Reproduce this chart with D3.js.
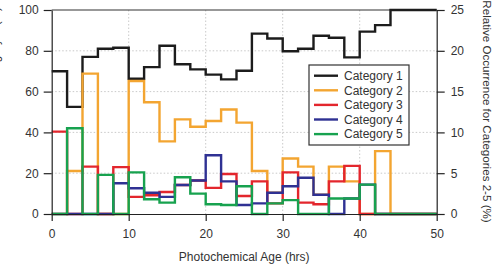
<!DOCTYPE html>
<html><head><meta charset="utf-8">
<script src="https://cdn.jsdelivr.net/npm/d3@7"></script>
<style>body{margin:0;background:#fff}svg{display:block}text{font-family:"Liberation Sans",Arial,sans-serif;fill:#333}</style>
</head><body><svg id="c" width="503" height="264"></svg>
<script>
const binEdges = d3.range(0, 52, 2);
const categories = ["Category 1","Category 2","Category 3","Category 4","Category 5"];
const cat1 = [70,52.5,77,81,81.5,66.3,72,82.5,73.4,70.9,68.3,66,70.2,88.4,86,79.8,81,87.4,86.4,76.8,89.4,92.6,100,100,100];
const cat2 = [0,5.27,17.2,0,0,16.3,13.7,8.9,11.6,10.7,11.4,12.8,11.2,5.27,2.6,6.8,5.8,2.35,5.8,4.0,0,7.7,0,0,0];
const cat3 = [10.1,0,5.8,0,5.75,2.1,2.3,2.7,3.55,4.1,3.2,4.9,2.2,4.0,1.3,5.1,1.4,1.2,4.0,5.9,0,0,0,0,0];
const cat4 = [0,0,0,0,3.76,3.15,2.6,2.1,3.55,4.1,7.2,4.0,1.1,1.3,2.6,3.4,4.45,2.35,0,1.9,3.6,0,0,0,0];
const cat5 = [0,10.5,0,4.8,0,5.1,1.8,1.4,4.5,2.5,1.2,1.1,3.4,0,1.3,1.7,0,0,1.9,1.9,3.6,0,0,0,0];
const colors = ["#1c1c1c","#f3a531","#e3262d","#2f3193","#17a24f"];
const xTicks = [0,10,20,30,40,50];
const yLeftTicks = [0,20,40,60,80,100];
const yRightTicks = [0,5,10,15,20,25];

const svg = d3.select("#c");
const L = 51.7, R = 436.7, T = 10, B = 214;
const x = d3.scaleLinear().domain([0,50]).range([L,R]);
const yL = d3.scaleLinear().domain([0,100]).range([B,T]);
const yR = d3.scaleLinear().domain([0,25]).range([B,T]);

const g = svg.append("g");
g.selectAll("line.gx").data([10,20,30,40]).join("line")
  .attr("x1",d=>x(d)).attr("x2",d=>x(d)).attr("y1",T).attr("y2",B)
  .attr("stroke","#bbb").attr("stroke-width",0.8).attr("stroke-dasharray","1.5,2");
g.selectAll("line.gy").data([20,40,60,80]).join("line")
  .attr("x1",L).attr("x2",R).attr("y1",d=>yL(d)).attr("y2",d=>yL(d))
  .attr("stroke","#bbb").attr("stroke-width",0.8).attr("stroke-dasharray","1.5,2");
svg.append("line").attr("x1",L).attr("x2",R).attr("y1",T).attr("y2",T).attr("stroke","#333").attr("stroke-width",1.2);

const series = [[cat1,yL],[cat2,yR],[cat3,yR],[cat4,yR],[cat5,yR]];
series.forEach(([vals,ys],k)=>{
  const pts = vals.map((v,i)=>[binEdges[i],v]);
  pts.push([binEdges[vals.length], vals[vals.length-1]]);
  const line = d3.line().x(d=>x(d[0])).y(d=>ys(d[1])).curve(d3.curveStepAfter);
  svg.append("path").attr("d",line(pts)).attr("fill","none")
    .attr("stroke",colors[k]).attr("stroke-width",2.4).attr("stroke-linejoin","miter");
});

function styleAxis(sel){
  sel.selectAll("path").attr("stroke","#222").attr("stroke-width",1.2);
  sel.selectAll("line").attr("stroke","#222").attr("stroke-width",1.2);
  sel.selectAll("text").attr("font-size",12).attr("fill","#333").style("font-family","'Liberation Sans',Arial,sans-serif");
}
svg.append("g").attr("transform",`translate(0,${B})`)
  .call(d3.axisBottom(x).tickValues(xTicks).tickSize(7).tickPadding(8).tickSizeOuter(0)).call(styleAxis);
svg.append("g").attr("transform",`translate(${L},0)`)
  .call(d3.axisLeft(yL).tickValues(yLeftTicks).tickSize(8).tickPadding(5).tickSizeOuter(0)).call(styleAxis);
svg.append("g").attr("transform",`translate(${R},0)`)
  .call(d3.axisRight(yR).tickValues(yRightTicks).tickSize(8).tickPadding(6).tickSizeOuter(0)).call(styleAxis);

svg.append("text").attr("x",(L+R)/2).attr("y",261).attr("text-anchor","middle").attr("font-size",12)
  .text("Photochemical Age (hrs)");
svg.append("text").attr("transform",`translate(483,111.5) rotate(90)`).attr("text-anchor","middle").attr("font-size",11.6)
  .text("Relative Occurrence for Categories 2-5 (%)");
svg.append("text").attr("transform",`translate(-1,${(T+B)/2}) rotate(-90)`).attr("text-anchor","middle").attr("font-size",12)
  .text("Relative Occurrence for Category 1 (%)");

const lg = svg.append("g");
lg.append("rect").attr("x",309).attr("y",65).attr("width",100).attr("height",80)
  .attr("fill","#fff").attr("stroke","#333").attr("stroke-width",1.2);
categories.forEach((c,i)=>{
  const yy = 75.7 + i*14.6;
  lg.append("line").attr("x1",314).attr("x2",338).attr("y1",yy).attr("y2",yy)
    .attr("stroke",colors[i]).attr("stroke-width",2.4);
  lg.append("text").attr("x",344).attr("y",yy+4.3).attr("font-size",12).text(c);
});
</script></body></html>
